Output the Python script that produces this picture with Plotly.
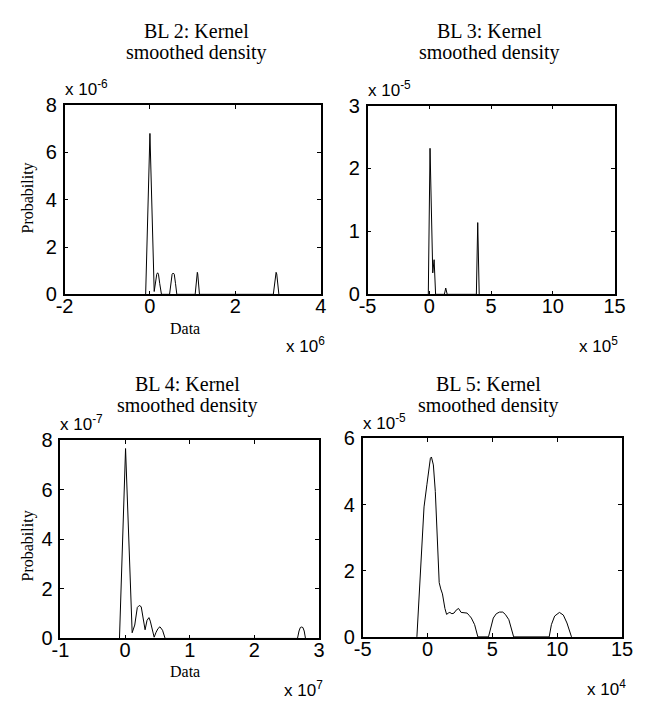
import plotly.graph_objects as go

W, H = 645, 717

# ---------------- data (x in units of the axis multiplier, y likewise) ----------------
# BL 2: x * 1e6, y * 1e-6
bl2_x = [-0.10, 0.00, 0.10, 0.13, 0.16, 0.18, 0.20, 0.23, 0.27,
         0.46, 0.49, 0.52, 0.545, 0.57, 0.60, 0.63,
         1.06, 1.08, 1.10, 1.11, 1.12, 1.14, 1.16,
         2.89, 2.915, 2.94, 2.955, 2.97, 2.995, 3.02]
bl2_y = [0, 6.8, 0.12, 0.55, 0.85, 0.91, 0.85, 0.45, 0,
         0, 0.45, 0.85, 0.90, 0.85, 0.45, 0,
         0, 0.45, 0.86, 0.93, 0.86, 0.45, 0,
         0, 0.45, 0.86, 0.93, 0.86, 0.45, 0]

# BL 3: x * 1e5, y * 1e-5
bl3_x = [-0.08, 0.06, 0.28, 0.39, 0.51, 1.22, 1.33, 1.45, 3.81, 3.92, 4.04]
bl3_y = [0, 2.32, 0.34, 0.55, 0, 0, 0.10, 0, 0, 1.14, 0]

# BL 4: x * 1e7, y * 1e-7
bl4_x = [-0.086, 0.008, 0.11, 0.15, 0.19, 0.22, 0.25, 0.30, 0.31, 0.34, 0.37, 0.39,
         0.45, 0.48, 0.51, 0.54, 0.58, 0.62,
         2.666, 2.69, 2.71, 2.726, 2.75, 2.77, 2.79]
bl4_y = [0, 7.66, 0.23, 0.54, 1.25, 1.33, 1.28, 0.40, 0.35, 0.73, 0.84, 0.70,
         0.05, 0.25, 0.40, 0.47, 0.33, 0,
         0, 0.30, 0.44, 0.46, 0.44, 0.30, 0]

# BL 5: x * 1e4, y * 1e-5
bl5_x = [-0.82, -0.55, -0.27, -0.05, 0.10, 0.22, 0.30, 0.45, 0.60, 0.75, 0.90, 1.02,
         1.15, 1.34, 1.47, 1.60, 1.72, 1.88, 2.04, 2.21, 2.39, 2.59, 2.84, 3.05,
         3.21, 3.38, 3.63, 3.88,
         4.70, 4.85, 5.07, 5.30, 5.55, 5.80, 6.00, 6.27, 6.45, 6.64,
         9.38, 9.55, 9.80, 10.17, 10.47, 10.75, 11.10]
bl5_y = [0, 2.0, 3.93, 4.6, 5.1, 5.4, 5.44, 5.2, 4.4, 3.0, 1.64, 1.45,
         1.30, 0.86, 0.68, 0.72, 0.74, 0.70, 0.72, 0.81, 0.86, 0.74, 0.73, 0.72,
         0.65, 0.57, 0.37, 0,
         0, 0.25, 0.57, 0.70, 0.75, 0.75, 0.68, 0.52, 0.30, 0,
         0, 0.37, 0.63, 0.74, 0.66, 0.42, 0]

titles = ["BL 2: Kernel", "BL 3: Kernel", "BL 4: Kernel", "BL 5: Kernel"]
subtitle = "smoothed density"
x_exps = ["6", "5", "7", "4"]
y_exps = ["-6", "-5", "-7", "-5"]
x_ticks = [[-2, 0, 2, 4], [-5, 0, 5, 10, 15], [-1, 0, 1, 2, 3], [-5, 0, 5, 10, 15]]
y_ticks = [[0, 2, 4, 6, 8], [0, 1, 2, 3], [0, 2, 4, 6, 8], [0, 2, 4, 6]]
x_ranges = [[-2, 4], [-5, 15], [-1, 3], [-5, 15]]
y_ranges = [[0, 8], [0, 3], [0, 8], [0, 6]]
series = [(bl2_x, bl2_y), (bl3_x, bl3_y), (bl4_x, bl4_y), (bl5_x, bl5_y)]

# ---------------- layout geometry (pixels: left, top, right, bottom) ----------------
boxes = [(57.3, 97.0, 321.7, 292.3),
         (370.0, 97.5, 625.0, 292.3),
         (53.0, 442.7, 320.0, 647.3),
         (365.0, 441.0, 632.7, 645.7)]
title_pos = [(193.5, 20.5, 42.5), (496.3, 20.5, 42.5), (184.0, 385.0, 406.5), (495.0, 385.0, 406.5)]

def px(x):
    return x / W

def py(y):
    return 1 - y / H

SANS = "Liberation Sans, Arial, sans-serif"
SERIF = "Liberation Serif, Times New Roman, serif"

fig = go.Figure()
layout = dict(width=W, height=H, margin=dict(l=0, r=0, t=0, b=0),
              paper_bgcolor="white", plot_bgcolor="white", showlegend=False)
annotations = []

for i in range(4):
    sx = "" if i == 0 else str(i + 1)
    l, t, r, b = boxes[i]
    xs, ys = series[i]
    fig.add_trace(go.Scatter(x=xs, y=ys, mode="lines",
                             line=dict(color="black", width=1),
                             xaxis="x" + sx, yaxis="y" + sx, hoverinfo="skip"))
    common = dict(showline=True, linecolor="black", linewidth=1.5, mirror="ticks",
                  ticks="inside", ticklen=4, tickwidth=1, tickcolor="black",
                  showgrid=False, zeroline=False,
                  tickfont=dict(family=SANS, size=20, color="black"))
    layout["xaxis" + sx] = dict(common, domain=[px(l), px(r)], range=x_ranges[i],
                                tickvals=x_ticks[i], ticktext=[str(v) for v in x_ticks[i]],
                                ticklabelstandoff=-7, anchor="y" + sx)
    layout["yaxis" + sx] = dict(common, domain=[py(b), py(t)], range=y_ranges[i],
                                tickvals=y_ticks[i], ticktext=[str(v) for v in y_ticks[i]],
                                ticklabelstandoff=2, anchor="x" + sx)
    cx, y1, y2 = title_pos[i]
    annotations.append(dict(text=titles[i], x=px(cx), y=py(y1), xref="paper", yref="paper",
                            xanchor="center", yanchor="middle", showarrow=False,
                            font=dict(family=SERIF, size=20, color="black")))
    annotations.append(dict(text=subtitle, x=px(cx), y=py(y2), xref="paper", yref="paper",
                            xanchor="center", yanchor="middle", showarrow=False,
                            font=dict(family=SERIF, size=20, color="black")))
    # y exponent (top-left of box)
    annotations.append(dict(text="x 10<sup>" + y_exps[i] + "</sup>", x=px(l - 2), y=py(t - 4),
                            xref="paper", yref="paper", xanchor="left", yanchor="bottom",
                            showarrow=False, font=dict(family=SANS, size=17, color="black")))
    # x exponent (bottom-right of box)
    annotations.append(dict(text="x 10<sup>" + x_exps[i] + "</sup>", x=px(r + 6), y=py(b + 66),
                            xref="paper", yref="paper", xanchor="right", yanchor="bottom",
                            showarrow=False, font=dict(family=SANS, size=17, color="black")))

# axis labels (left column only)
for (cx, cy) in [(182, 327.5), (182, 681)]:
    annotations.append(dict(text="Data", x=px(cx), y=py(cy), xref="paper", yref="paper",
                            xanchor="center", yanchor="middle", showarrow=False,
                            font=dict(family=SERIF, size=16, color="black")))
for (cx, cy) in [(19.5, 192.5), (19.5, 551.5)]:
    annotations.append(dict(text="Probability", x=px(cx), y=py(cy), xref="paper", yref="paper",
                            xanchor="center", yanchor="middle", showarrow=False, textangle=-90,
                            font=dict(family=SERIF, size=16, color="black")))

layout["annotations"] = annotations
fig.update_layout(**layout)
fig.write_html("out.html")
